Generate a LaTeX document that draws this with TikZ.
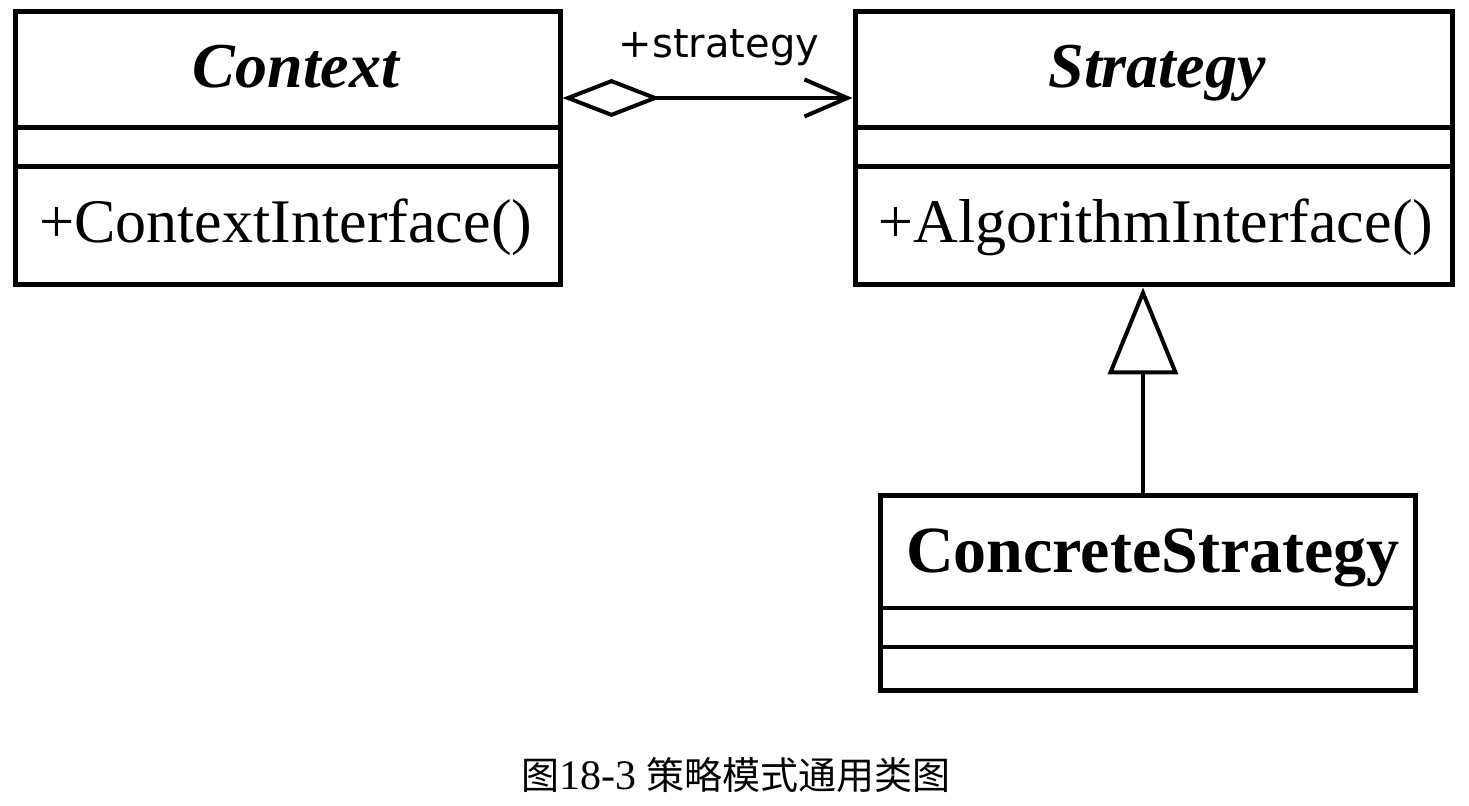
\documentclass[tikz,border=0pt]{standalone}
\usepackage{fontspec}
\setmainfont{Liberation Serif}
\newfontfamily\cjkfont{Noto Sans CJK SC}
\newfontfamily\labelfont{DejaVu Sans}
\usetikzlibrary{arrows.meta,calc}
\begin{document}
\begin{tikzpicture}[x=0.5pt,y=-0.5pt,
  classbox/.style={draw, line width=2.5pt, rectangle, inner sep=0pt},
  divider/.style={line width=2.5pt},
  thindivider/.style={line width=1.75pt},
  classname/.style={font=\fontsize{32pt}{36pt}\selectfont\bfseries\itshape, inner sep=0pt, anchor=base},
  concretename/.style={font=\fontsize{33pt}{36pt}\selectfont\bfseries, inner sep=0pt, anchor=base},
  operation/.style={font=\fontsize{31pt}{36pt}\selectfont, inner sep=0pt, anchor=base west},
  rolelabel/.style={font=\labelfont\fontsize{20pt}{24pt}\selectfont, inner sep=0pt, anchor=base},
  aggregation/.style={line width=2pt, {Diamond[open, length=49pt, width=19pt]}-{Straight Barb[length=21.5pt, width=18.5pt]}},
  inherit/.style={line width=2pt, -{Triangle[open, length=43.5pt, width=35pt]}},
  caption/.style={font=\fontsize{19pt}{22pt}\selectfont, inner sep=0pt, anchor=base}
]
\fill[white] (0,0) rectangle (1469,806);
\useasboundingbox (0,0) rectangle (1469,806);

% Context class
\node[classbox, minimum width=272.5pt, minimum height=136.5pt] (context) at (287.5,148.5) {};
\draw[divider] (context.west |- 0,128) -- (context.east |- 0,128);
\draw[divider] (context.west |- 0,167) -- (context.east |- 0,167);
\node[classname] (contextname) at (296,88) {Context};
\node[operation] (contextop) at (39,243) {+ContextInterface()};

% Strategy class
\node[classbox, minimum width=298.5pt, minimum height=136.5pt] (strategy) at (1153.5,148.5) {};
\draw[divider] (strategy.west |- 0,128) -- (strategy.east |- 0,128);
\draw[divider] (strategy.west |- 0,167) -- (strategy.east |- 0,167);
\node[classname] (strategyname) at (1157,88) {Strategy};
\node[operation] (strategyop) at (878,243) {+AlgorithmInterface()};

% ConcreteStrategy class
\node[classbox, minimum width=267.5pt, minimum height=97.5pt] (concrete) at (1147.5,593.5) {};
\draw[thindivider] (concrete.west |- 0,608) -- (concrete.east |- 0,608);
\draw[thindivider] (concrete.west |- 0,647) -- (concrete.east |- 0,647);
\node[concretename] (concretename) at (1153,573) {ConcreteStrategy};

% aggregation Context -> Strategy
\coordinate (aggstart) at ($(context.east)+(0,-50.5)$);
\coordinate (aggend) at (aggstart -| strategy.west);
\draw[aggregation] (aggstart) -- (aggend);
\node[rolelabel] (role) at (719,58) {+strategy};

% generalization ConcreteStrategy -> Strategy
\coordinate (inhstart) at ($(concrete.north)+(-4.5,0)$);
\coordinate (inhend) at (inhstart |- strategy.south);
\draw[inherit] (inhstart) -- (inhend);

% caption
\node[caption] (cap) at (736,790) {{\cjkfont 图}\fontsize{21pt}{22pt}\selectfont 18-3 {\fontsize{19pt}{22pt}\selectfont\cjkfont 策略模式通用类图}};
\end{tikzpicture}
\end{document}
